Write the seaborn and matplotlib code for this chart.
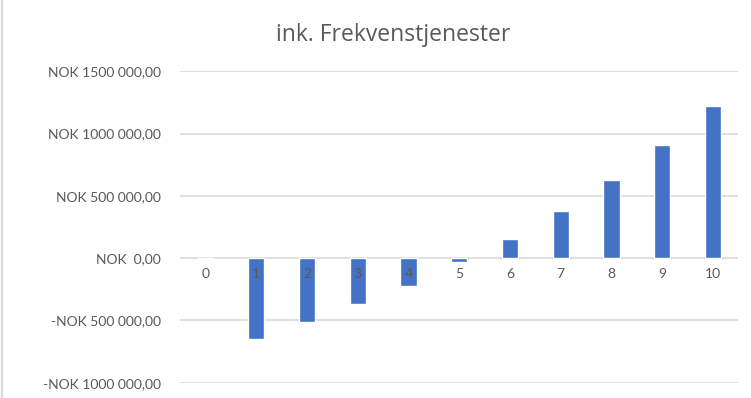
import matplotlib
matplotlib.use("Agg")
import matplotlib.pyplot as plt
import matplotlib.ticker as mticker
import seaborn as sns
import pandas as pd

# data
years = ["0", "1", "2", "3", "4", "5", "6", "7", "8", "9", "10"]
values = [0, -650000, -516000, -372000, -220000, -35000, 155000, 379000, 625000, 905000, 1222000]
y_ticks = [-1000000, -500000, 0, 500000, 1000000, 1500000]
title = "ink. Frekvenstjenester"

sns.set_style("white")
plt.rcParams["font.family"] = ["Lato", "DejaVu Sans"]

df = pd.DataFrame({"year": years, "value": values})

fig = plt.figure(figsize=(7.51, 3.98), dpi=100)
ax = fig.add_axes([0.24, 0.0384, 0.743, 0.7826])

sns.barplot(data=df, x="year", y="value", color="#4472C4", saturation=1,
            width=0.32, ax=ax, zorder=1)

for t in y_ticks:
    ax.axhline(t, color="#D9D9D9", lw=1.2, zorder=0)


def nok(v, pos=None):
    v = int(round(v))
    sign = "-" if v < 0 else ""
    a = abs(v)
    if a == 0:
        num = " 0,00"
    elif a >= 1000:
        num = f"{a // 1000} {a % 1000:03d},00"
    else:
        num = f"{a},00"
    return f"{sign}NOK {num}"


ax.set_ylim(-1000000, 1500000)
ax.set_xlim(-0.5, len(years) - 0.5)
ax.yaxis.set_major_locator(mticker.FixedLocator(y_ticks))
ax.yaxis.set_major_formatter(mticker.FuncFormatter(nok))
ax.tick_params(axis="y", length=0, pad=14, labelsize=10, labelcolor="#595959")
ax.tick_params(axis="x", length=0, pad=7, labelsize=10, labelcolor="#595959")
ax.spines["bottom"].set_position(("data", 0))
for s in ax.spines.values():
    s.set_visible(False)
ax.set_xlabel("")
ax.set_ylabel("")
ax.set_axisbelow(False)

fig.text(0.523, 0.912, title, ha="center", va="center", fontsize=16.5,
         color="#595959", family=["Open Sans", "DejaVu Sans"])
fig.add_artist(plt.Line2D([0.003, 0.003], [0, 1], color="#D9D9D9", lw=1.5))

fig.savefig("out.png", dpi=100)
